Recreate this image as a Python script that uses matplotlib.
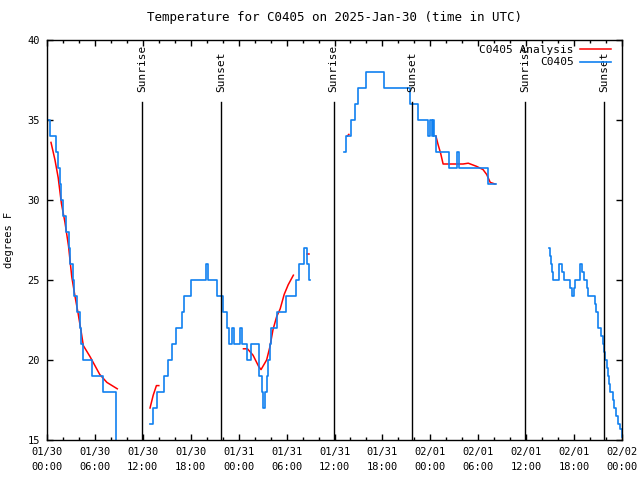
import matplotlib
matplotlib.use("Agg")
import matplotlib.pyplot as plt
from matplotlib.ticker import MultipleLocator

# Temperature for station C0405, hours since 2025-01-30 00:00 UTC

# observed temperatures (blue), one list pair per gap-free piece
obs_t1 = [0, 0.4, 1.1, 1.4, 1.6, 1.8, 2.0, 2.4, 2.7, 2.9, 3.2, 3.4, 3.8, 4.1, 4.3, 4.5, 5.6, 7.0, 8.6]
obs_T1 = [35, 34, 33, 32, 31, 30, 29, 28, 27, 26, 25, 24, 23, 22, 21, 20, 19, 18, 14]

obs_t2 = [12.9, 13.3, 13.8, 14.6, 15.1, 15.6, 16.1, 16.9, 17.2, 18.0, 19.9, 20.2, 21.3, 22.0,
          22.5, 22.8, 23.2, 23.4, 24.2, 24.4, 25.0, 25.5, 26.6, 26.9, 27.0, 27.3, 27.5, 27.7,
          27.9, 28.1, 28.8, 29.9, 31.2, 31.6, 32.2, 32.5, 32.8, 32.9]
obs_T2 = [16, 17, 18, 19, 20, 21, 22, 23, 24, 25, 26, 25, 24, 23,
          22, 21, 22, 21, 22, 21, 20, 21, 19, 18, 17, 18, 19, 20,
          21, 22, 23, 24, 25, 26, 27, 26, 25, 25]

obs_t3 = [37.2, 37.5, 38.1, 38.6, 39.0, 39.9, 42.2, 45.4, 46.4, 47.7, 48.0, 48.2, 48.3, 48.45,
          48.7, 50.4, 51.4, 51.6, 55.2, 56.2]
obs_T3 = [33, 34, 35, 36, 37, 38, 37, 36, 35, 34, 35, 34, 35, 34,
          33, 32, 33, 32, 31, 31]

obs_t4 = [62.8, 63.0, 63.1, 63.25, 63.4, 64.1, 64.5, 64.7, 65.5, 65.7, 66.0, 66.15, 66.8, 67.0,
          67.2, 67.6, 67.8, 68.6, 68.7, 68.95, 69.4, 69.6, 69.8, 69.9, 70.1, 70.2, 70.35, 70.45,
          70.9, 71.05, 71.3, 71.5, 71.7, 71.95]
obs_T4 = [27, 26.5, 26, 25.5, 25, 26, 25.5, 25, 24.5, 24, 24.5, 25, 26, 25.5,
          25, 24.5, 24, 23.5, 23, 22, 21.5, 21, 20.5, 20, 19.5, 19, 18.5, 18,
          17.5, 17, 16.5, 16, 15.7, 15.2]

# analysis temperatures (red)
ana_t1 = [0.5, 1.0, 1.4, 1.8, 2.25, 2.7, 3.1, 3.5, 3.9, 4.3, 4.55, 5.4, 6.6, 7.5, 8.8]
ana_T1 = [33.6, 32.5, 31.4, 29.8, 28.6, 27.1, 25.2, 24.0, 22.9, 21.7, 20.9, 20.2, 19.1, 18.6, 18.2]

ana_t2 = [12.9, 13.3, 13.7, 14.0]
ana_T2 = [17.0, 17.8, 18.4, 18.4]

ana_t3 = [24.6, 25.1, 25.8, 26.5, 26.8, 27.5, 27.9, 28.3, 28.75, 29.2, 29.7, 30.2, 30.85]
ana_T3 = [20.7, 20.7, 20.3, 19.6, 19.4, 20.0, 20.8, 21.9, 22.7, 23.2, 24.1, 24.7, 25.3]

ana_t4 = [32.6, 32.8]
ana_T4 = [26.6, 26.6]

ana_t5 = [37.6, 37.8]
ana_T5 = [34.0, 34.1]

ana_t6 = [48.7, 48.95, 49.3, 49.6, 52.1, 52.75, 53.8, 54.6, 55.05, 55.5, 56.1]
ana_T6 = [34.0, 33.5, 32.9, 32.25, 32.25, 32.3, 32.1, 31.9, 31.6, 31.1, 31.0]

sunrise = [11.95, 35.9, 59.9]
sunset = [21.8, 45.7, 69.75]

xtick_labels = ["01/30\n00:00", "01/30\n06:00", "01/30\n12:00", "01/30\n18:00",
                "01/31\n00:00", "01/31\n06:00", "01/31\n12:00", "01/31\n18:00",
                "02/01\n00:00", "02/01\n06:00", "02/01\n12:00", "02/01\n18:00",
                "02/02\n00:00"]

plt.rcParams["font.family"] = "DejaVu Sans Mono"
plt.rcParams["font.size"] = 7.5

fig = plt.figure(figsize=(6.4, 4.8), dpi=100)
ax = fig.add_axes([47 / 640, 40 / 480, 575 / 640, 400 / 480])

red = "#ff0000"
blue = "#1080f0"

ana = [(ana_t1, ana_T1), (ana_t2, ana_T2), (ana_t3, ana_T3), (ana_t4, ana_T4),
       (ana_t5, ana_T5), (ana_t6, ana_T6)]
for i, (t, T) in enumerate(ana):
    ax.plot(t, T, color=red, lw=1.1, label="C0405 Analysis" if i == 0 else None)

obs = [(obs_t1, obs_T1), (obs_t2, obs_T2), (obs_t3, obs_T3), (obs_t4, obs_T4)]
for i, (t, T) in enumerate(obs):
    ax.plot(t, T, color=blue, lw=1.2, drawstyle="steps-post",
            label="C0405" if i == 0 else None)

# sun events
for name, times in (("Sunrise", sunrise), ("Sunset", sunset)):
    for x in times:
        ax.plot([x, x], [15, 36.15], color="black", lw=1)
        ax.text(x, 36.75, name, rotation=90, ha="center", va="bottom", fontsize=8)

ax.set_xlim(0, 72)
ax.set_ylim(15, 40)
ax.set_xticks(range(0, 73, 6))
ax.set_xticklabels(xtick_labels, linespacing=1.6)
ax.xaxis.set_minor_locator(MultipleLocator(2))
ax.set_yticks(range(15, 41, 5))
ax.tick_params(which="both", direction="in", top=True, right=True, width=1)
ax.tick_params(which="major", length=4.5, pad=5)
ax.tick_params(which="minor", length=2.5)
for s in ax.spines.values():
    s.set_linewidth(1)

ax.set_ylabel("degrees F", labelpad=10)
ax.set_title("Temperature for C0405 on 2025-Jan-30 (time in UTC)", pad=14)

ax.legend(loc="upper right", bbox_to_anchor=(1 - 4 / 575, 1 + 2 / 400), frameon=False,
          markerfirst=False, handlelength=2.8, handletextpad=0.6, borderaxespad=0.2,
          labelspacing=0.25, fontsize=8)

fig.savefig("out.png", dpi=100)
